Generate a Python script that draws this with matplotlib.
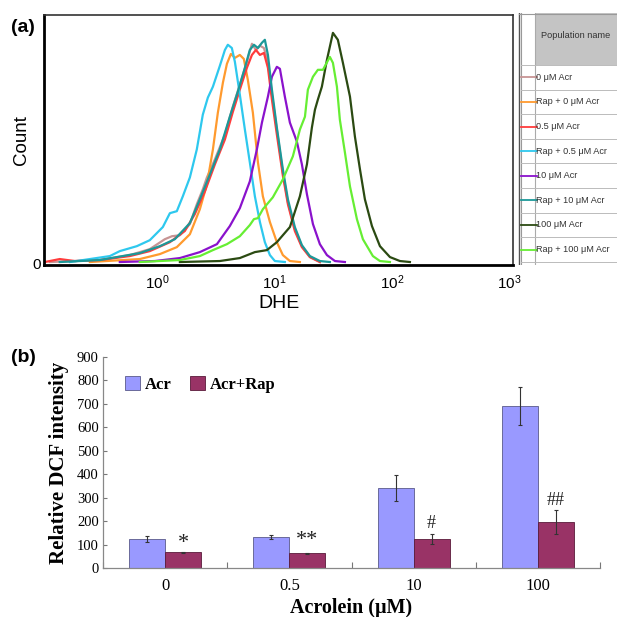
import numpy as np
import matplotlib
matplotlib.use("Agg")
import matplotlib.pyplot as plt
from matplotlib.patches import Rectangle, Patch

plt.rcParams['mathtext.fontset'] = 'custom'
plt.rcParams['mathtext.rm'] = 'Liberation Sans'
plt.rcParams['mathtext.it'] = 'Liberation Sans:italic'

# ---------------- Panel (a) data: flow-cytometry histograms (log10 DHE, count %) ----------------
pop_names = ["0 μM Acr", "Rap + 0 μM Acr", "0.5 μM Acr", "Rap + 0.5 μM Acr",
             "10 μM Acr", "Rap + 10 μM Acr", "100 μM Acr", "Rap + 100 μM Acr"]
pop_colors = ["#c79494", "#ff9a2e", "#ff3c3c", "#2ec8ee",
              "#8a12cc", "#1c9898", "#2b4a12", "#66ee33"]

gray_logx = [-0.911, -0.485, -0.230, -0.060, 0.068, 0.128, 0.196, 0.281, 0.340, 0.391, 0.426, 0.494,
             0.579, 0.647, 0.706, 0.766, 0.809, 0.843, 0.877, 0.911, 0.945, 0.979, 1.021, 1.072,
             1.115, 1.174, 1.234, 1.302, 1.387]
gray_cnt = [0.4, 1.2, 3.2, 5.6, 9.6, 10.8, 11.2, 15.7, 23.7, 29.7, 34.5, 41.8,
            51.8, 63.1, 71.9, 81.1, 88.4, 85.9, 87.6, 86.7, 81.1, 67.9, 53.8, 36.5,
            24.5, 13.7, 6.8, 2.4, 0.4]

orange_logx = [-0.570, -0.145, 0.026, 0.170, 0.281, 0.366, 0.426, 0.477, 0.519, 0.562, 0.596, 0.630,
               0.664, 0.706, 0.740, 0.774, 0.817, 0.860, 0.902, 0.962, 1.021, 1.072, 1.132, 1.217]
orange_cnt = [0.4, 1.6, 3.6, 6.4, 11.6, 21.7, 31.7, 45.8, 60.6, 72.7, 80.3, 84.3,
              82.7, 83.9, 82.3, 73.9, 60.6, 40.6, 26.9, 16.5, 8.4, 3.2, 0.8, 0.4]

red_logx = [-0.953, -0.826, -0.698, -0.485, -0.230, -0.060, 0.111, 0.238, 0.323, 0.409, 0.494, 0.579,
            0.647, 0.706, 0.766, 0.809, 0.843, 0.877, 0.911, 0.945, 0.979, 1.021, 1.072, 1.115,
            1.174, 1.234, 1.302, 1.387]
red_cnt = [0.4, 1.6, 0.8, 1.2, 2.8, 4.8, 8.4, 12.9, 19.7, 28.9, 39.8, 49.8,
           61.0, 69.9, 78.7, 83.9, 85.9, 83.9, 84.7, 78.7, 65.9, 51.8, 35.3, 23.7,
           12.9, 6.4, 2.4, 0.4]

cyan_logx = [-0.740, -0.570, -0.400, -0.315, -0.170, -0.060, 0.051, 0.111, 0.170, 0.221, 0.281, 0.340,
             0.391, 0.434, 0.477, 0.536, 0.579, 0.604, 0.638, 0.664, 0.706, 0.749, 0.791, 0.834,
             0.877, 0.919, 0.962, 1.004, 1.089]
cyan_cnt = [0.4, 1.6, 2.8, 4.8, 6.8, 9.2, 14.5, 20.1, 20.9, 26.9, 34.5, 45.8,
            59.8, 66.7, 71.1, 79.5, 85.9, 88.0, 86.7, 81.1, 67.9, 53.8, 40.6, 26.9,
            16.5, 8.4, 3.2, 0.8, 0.4]

purple_logx = [-0.315, -0.017, 0.196, 0.366, 0.511, 0.621, 0.706, 0.791, 0.851, 0.894, 0.945, 0.979,
               1.021, 1.047, 1.089, 1.132, 1.191, 1.234, 1.277, 1.328, 1.387, 1.447, 1.515, 1.600]
purple_cnt = [0.4, 0.8, 2.0, 4.4, 7.6, 14.9, 22.1, 32.9, 45.8, 56.6, 67.1, 75.1,
              79.1, 78.3, 67.1, 56.6, 49.0, 39.8, 27.7, 15.7, 7.6, 3.2, 0.8, 0.4]

teal_logx = [-0.826, -0.485, -0.145, 0.026, 0.153, 0.281, 0.366, 0.451, 0.536, 0.621, 0.689, 0.749,
             0.791, 0.826, 0.860, 0.894, 0.919, 0.945, 0.979, 1.021, 1.072, 1.115, 1.174, 1.234,
             1.302, 1.387, 1.472]
teal_cnt = [0.4, 1.2, 4.0, 6.8, 9.6, 16.1, 25.7, 35.7, 45.8, 59.0, 69.1, 78.7,
            85.9, 88.0, 86.7, 88.8, 90.0, 83.9, 69.9, 54.6, 37.8, 25.7, 14.5, 7.2,
            2.8, 0.8, 0.4]

dkgreen_logx = [0.196, 0.536, 0.706, 0.834, 0.936, 1.021, 1.132, 1.217, 1.277, 1.319, 1.345, 1.370,
                1.404, 1.447, 1.498, 1.540, 1.583, 1.643, 1.685, 1.728, 1.770, 1.830, 1.898, 1.983,
                2.068, 2.153]
dkgreen_cnt = [0.4, 0.8, 2.0, 4.4, 5.2, 8.4, 14.5, 26.9, 39.8, 54.6, 61.8, 65.9,
               71.1, 81.9, 92.8, 90.0, 80.7, 67.1, 51.0, 37.8, 25.7, 14.9, 6.8, 2.4,
               0.8, 0.4]

ltgreen_logx = [-0.145, 0.196, 0.366, 0.477, 0.596, 0.706, 0.791, 0.826, 0.860, 0.902, 0.987, 1.072,
                1.157, 1.217, 1.260, 1.285, 1.328, 1.370, 1.413, 1.472, 1.498, 1.532, 1.557, 1.600,
                1.643, 1.702, 1.753, 1.838, 1.898, 1.983]
ltgreen_cnt = [0.4, 1.2, 2.8, 5.2, 7.6, 10.8, 15.3, 17.7, 18.1, 21.7, 26.5, 33.7,
               43.0, 53.8, 59.0, 69.9, 75.1, 77.9, 77.9, 83.1, 80.7, 71.1, 57.8, 44.6,
               30.9, 17.7, 9.6, 2.8, 0.8, 0.4]

hist_series = [(gray_logx, gray_cnt), (orange_logx, orange_cnt), (red_logx, red_cnt),
               (cyan_logx, cyan_cnt), (purple_logx, purple_cnt), (teal_logx, teal_cnt),
               (dkgreen_logx, dkgreen_cnt), (ltgreen_logx, ltgreen_cnt)]

xtick_vals = [1, 10, 100, 1000]
xtick_labels = [r'$\mathregular{10^{0}}$', r'$\mathregular{10^{1}}$',
                r'$\mathregular{10^{2}}$', r'$\mathregular{10^{3}}$']

# ---------------- Panel (b) data ----------------
conc_labels = ["0", "0.5", "10", "100"]
acr_vals = [124, 133, 340, 690]
acr_err = [12, 8, 55, 80]
rap_vals = [68, 63, 123, 197]
rap_err = [2, 3, 21, 50]
sig_marks = ["*", "**", "#", "##"]

W = H = 617
fig = plt.figure(figsize=(W / 100, H / 100), dpi=100)

def fx(px):
    return px / W

def fy(py):
    return 1 - py / H

# ---------- Panel (a) ----------
axa = fig.add_axes([fx(44), fy(265), fx(513) - fx(44), fy(15) - fy(265)])
for (lx, cnt), col in zip(hist_series, pop_colors):
    axa.plot(10 ** np.array(lx), cnt, color=col, lw=1.6, solid_joinstyle='round')
axa.set_xscale('log')
axa.set_xlim(10 ** -0.96, 10 ** 3.03)
axa.set_ylim(-0.8, 100)
axa.set_xticks(xtick_vals)
axa.set_xticklabels(xtick_labels, fontsize=11, family='Liberation Sans')
axa.xaxis.set_minor_locator(matplotlib.ticker.NullLocator())
axa.set_yticks([0])
axa.set_yticklabels(['0'], fontsize=11, family='Liberation Sans')
axa.tick_params(length=0, pad=6)
axa.tick_params(axis='y', pad=2)
axa.set_xlabel('DHE', fontsize=14, family='Liberation Sans', labelpad=2)
axa.set_ylabel('Count', fontsize=13.5, family='Liberation Sans', labelpad=2)
for s in ['left', 'bottom']:
    axa.spines[s].set_linewidth(2.0)
    axa.spines[s].set_color('black')
for s in ['top', 'right']:
    axa.spines[s].set_linewidth(1.2)
    axa.spines[s].set_color('#333333')
fig.text(fx(11), fy(28), '(a)', fontsize=14, fontweight='bold', family='Liberation Sans', va='center')

# ---------- Legend table for (a) ----------
axt = fig.add_axes([fx(517), fy(265), fx(617) - fx(517), fy(13) - fy(265)])
axt.set_xlim(0, 100)
axt.set_ylim(252, 0)
axt.axis('off')
axt.add_patch(Rectangle((18, 0), 82, 52, facecolor='#c4c4c4', edgecolor='none'))
axt.text(59, 22, 'Population name', fontsize=6.6, color='#333333', ha='center', va='center',
         family='Liberation Sans')
axt.plot([1.5, 1.5], [0, 252], color='#555555', lw=1.0)
axt.plot([3.5, 3.5], [0, 252], color='#999999', lw=0.8)
axt.plot([18, 18], [0, 252], color='#aaaaaa', lw=0.8)
axt.plot([1.5, 100], [0.5, 0.5], color='#999999', lw=0.8)
row_h = 24.6
for i, (nm, col) in enumerate(zip(pop_names, pop_colors)):
    y0 = 52 + i * row_h
    axt.plot([3.5, 100], [y0, y0], color='#bbbbbb', lw=0.7)
    yc = y0 + row_h / 2
    axt.plot([3.5, 20], [yc, yc], color=col, lw=1.3)
    axt.text(19.0, yc, nm, fontsize=6.6, color='#333333', va='center', ha='left',
             family='Liberation Sans')
axt.plot([3.5, 100], [52 + 8 * row_h, 52 + 8 * row_h], color='#bbbbbb', lw=0.7)

# ---------- Panel (b) ----------
serif = 'Liberation Serif'
axb = fig.add_axes([fx(103), fy(568), fx(600) - fx(103), fy(357) - fy(568)])
x = np.arange(len(conc_labels))
bw = 0.29
axb.bar(x - bw / 2, acr_vals, bw, color='#9999ff', edgecolor='#5a5a8a', lw=0.6,
        yerr=acr_err, error_kw=dict(ecolor='#333333', elinewidth=0.8, capsize=1.5, capthick=0.8),
        label='Acr', zorder=2)
axb.bar(x + bw / 2, rap_vals, bw, color='#993366', edgecolor='#5a1a3a', lw=0.6,
        yerr=rap_err, error_kw=dict(ecolor='#333333', elinewidth=0.8, capsize=1.5, capthick=0.8),
        label='Acr+Rap', zorder=2)
sig_offsets = [35, 50, 44, 40]
for xi, v, e, m, off in zip(x, rap_vals, rap_err, sig_marks, sig_offsets):
    fs = 16 if '*' in m else 13
    axb.text(xi + bw / 2, v + e + off, m, ha='center', va='center', fontsize=fs,
             family=serif, color='#222222')
axb.set_xlim(-0.5, 3.5)
axb.set_ylim(0, 900)
axb.set_yticks(range(0, 901, 100))
axb.set_yticklabels([str(v) for v in range(0, 901, 100)], fontsize=10.5, family=serif)
axb.set_xticks(x)
axb.set_xticklabels(conc_labels, fontsize=12, family=serif)
axb.set_xticks([-0.5, 0.5, 1.5, 2.5, 3.5], minor=True)
axb.tick_params(axis='x', which='major', length=0, pad=7)
axb.tick_params(axis='x', which='minor', length=4, direction='in', color='#777777', width=0.8)
axb.tick_params(axis='y', length=3, direction='in', color='#777777', width=0.8, pad=3)
for s in ['top', 'right']:
    axb.spines[s].set_visible(False)
for s in ['left', 'bottom']:
    axb.spines[s].set_color('#888888')
    axb.spines[s].set_linewidth(0.9)
axb.set_ylabel('Relative DCF intensity', fontsize=15, fontweight='bold', family=serif, labelpad=6)
axb.set_xlabel('Acrolein (μM)', fontsize=14.5, fontweight='bold', family=serif, labelpad=3)
leg = axb.legend(handles=[Patch(facecolor='#9999ff', edgecolor='#5a5a8a', lw=0.6, label='Acr'),
                          Patch(facecolor='#993366', edgecolor='#5a1a3a', lw=0.6, label='Acr+Rap')],
                 loc='upper left', bbox_to_anchor=(0.03, 0.94), ncol=2, frameon=False,
                 prop={'family': serif, 'weight': 'bold', 'size': 12},
                 handlelength=0.9, handleheight=0.9, handletextpad=0.3, columnspacing=1.1,
                 borderaxespad=0)
fig.text(fx(11), fy(357), '(b)', fontsize=14, fontweight='bold', family='Liberation Sans', va='center')

fig.savefig('out.png', dpi=100)
